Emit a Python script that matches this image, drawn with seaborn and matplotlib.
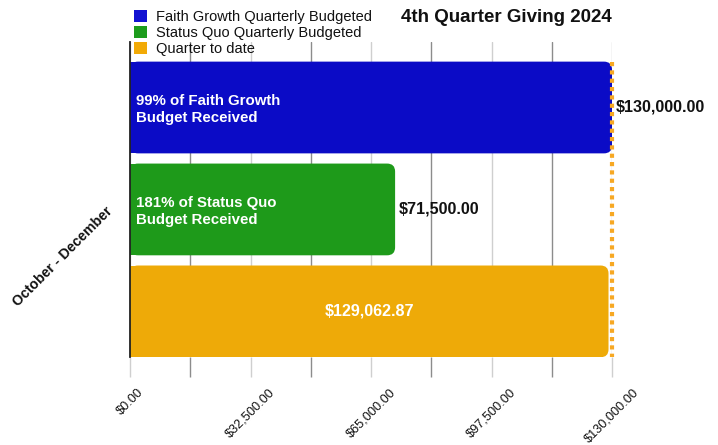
import pandas as pd
import matplotlib
matplotlib.use("Agg")
import matplotlib.pyplot as plt
import seaborn as sns
from matplotlib.patches import FancyBboxPatch, Rectangle, Patch
from matplotlib.ticker import MultipleLocator, FuncFormatter

sns.set_style("white")
plt.rcParams['font.family'] = ['Liberation Sans', 'DejaVu Sans']
plt.rcParams['text.color'] = '#111111'

# data
period = ["October - December"]
series = ["Faith Growth Quarterly Budgeted", "Status Quo Quarterly Budgeted", "Quarter to date"]
amounts = [130000.00, 71500.00, 129062.87]
inner_labels = ["99% of Faith Growth\nBudget Received", "181% of Status Quo\nBudget Received", ""]
bar_colors = ["#0B0BC6", "#1E9A1A", "#EEAA08"]
legend_colors = ["#1212D2", "#1C9C1C", "#F2AA06"]
x_max = 130000
major_step = 32500

df = pd.DataFrame({"period": period * len(series), "series": series, "amount": amounts})

fig = plt.figure(figsize=(7.18, 4.45), dpi=100)
ax = fig.add_axes([130 / 718, 88 / 445, 482 / 718, 315 / 445])

sns.barplot(data=df, x="amount", y="period", hue="series", palette=bar_colors,
            orient="h", width=0.8, gap=0.1, errorbar=None, legend=False, ax=ax)

ax.set_xlim(0, x_max)
ax.set_ylim(0.386, -0.438)

# axis styling
for s in ["top", "right", "bottom"]:
    ax.spines[s].set_visible(False)
ax.spines["left"].set_color("#222222")
ax.spines["left"].set_linewidth(1.3)

ax.xaxis.set_major_locator(MultipleLocator(major_step))
ax.xaxis.set_minor_locator(MultipleLocator(major_step / 2))
ax.xaxis.set_major_formatter(FuncFormatter(lambda v, p: f"${v:,.2f}"))
ax.grid(axis="x", which="major", color="#CFCFCF", linewidth=1.0, zorder=0)
ax.grid(axis="x", which="minor", color="#8C8C8C", linewidth=1.0, zorder=0)
ax.set_axisbelow(True)
ax.tick_params(axis="x", which="major", length=14.4, width=1.0, color="#CFCFCF",
               direction="out", bottom=True, labelsize=9.2, labelcolor="#111111", pad=6.5)
ax.tick_params(axis="x", which="minor", length=14.4, width=1.0, color="#8C8C8C",
               direction="out", bottom=True)
ax.tick_params(axis="y", length=0, pad=14, labelsize=10.2, labelcolor="#111111")
ax.set_xlabel("")
ax.set_ylabel("")

for lbl in ax.get_xticklabels():
    lbl.set_rotation(45)
    lbl.set_ha("center")
    lbl.set_va("top")
for lbl in ax.get_yticklabels():
    lbl.set_rotation(45)
    lbl.set_ha("right")
    lbl.set_va("center")
    lbl.set_rotation_mode("anchor")
    lbl.set_fontweight("bold")

# rounded right ends on the bars
bbox = ax.get_window_extent()
x_per_px = x_max / bbox.width
y_per_px = abs(ax.get_ylim()[0] - ax.get_ylim()[1]) / bbox.height
radius = 8 * x_per_px
aspect = y_per_px / x_per_px

bars = list(ax.patches)
geoms = []
for p, color in zip(bars, bar_colors):
    x, y, w, h = p.get_x(), p.get_y(), p.get_width(), p.get_height()
    geoms.append((x, y, w, h))
    p.remove()
    ax.add_patch(FancyBboxPatch((x, y), w, h, boxstyle=f"round,pad=0,rounding_size={radius}",
                                mutation_aspect=aspect, facecolor=color, edgecolor="none", zorder=2))
    ax.add_patch(Rectangle((x, y), min(w, 4 * radius), h, facecolor=color, edgecolor="none", zorder=2))

# labels
for (x, y, w, h), txt in zip(geoms, inner_labels):
    if txt:
        ax.annotate(txt, xy=(0, y + h / 2), xytext=(4, -1.5), textcoords="offset points",
                    ha="left", va="center", color="white", fontsize=10.8, fontweight="bold",
                    linespacing=1.3, zorder=3)

for i, ((x, y, w, h), val) in enumerate(zip(geoms, amounts)):
    label = f"${val:,.2f}"
    if i < 2:
        ax.annotate(label, xy=(w, y + h / 2), xytext=(2.5, 0), textcoords="offset points",
                    ha="left", va="center", color="#111111", fontsize=11.6, fontweight="bold",
                    annotation_clip=False, zorder=3)
    else:
        ax.text(w / 2, y + h / 2, label, ha="center", va="center", color="white",
                fontsize=11.6, fontweight="bold", zorder=3)

# dotted budget line
top = min(g[1] for g in geoms)
bottom = max(g[1] + g[3] for g in geoms)
ax.plot([amounts[0], amounts[0]], [top, bottom], color="#F7A823", linewidth=3,
        linestyle=(0, (1, 1)), solid_capstyle="butt", zorder=4, clip_on=False)

# legend and title
handles = [Patch(facecolor=c, edgecolor="none") for c in legend_colors]
fig.legend(handles, series, loc="upper left", bbox_to_anchor=(134 / 718, 1 - 10 / 445),
           frameon=False, fontsize=10.5, handlelength=0.9, handleheight=0.9,
           handletextpad=0.62, labelspacing=0.12, borderpad=0, borderaxespad=0)
fig.text(506 / 718, 1 - 17 / 445, "4th Quarter Giving 2024", ha="center", va="center",
         fontsize=13.5, fontweight="bold", color="#111111")

fig.savefig("out.png", dpi=100)
